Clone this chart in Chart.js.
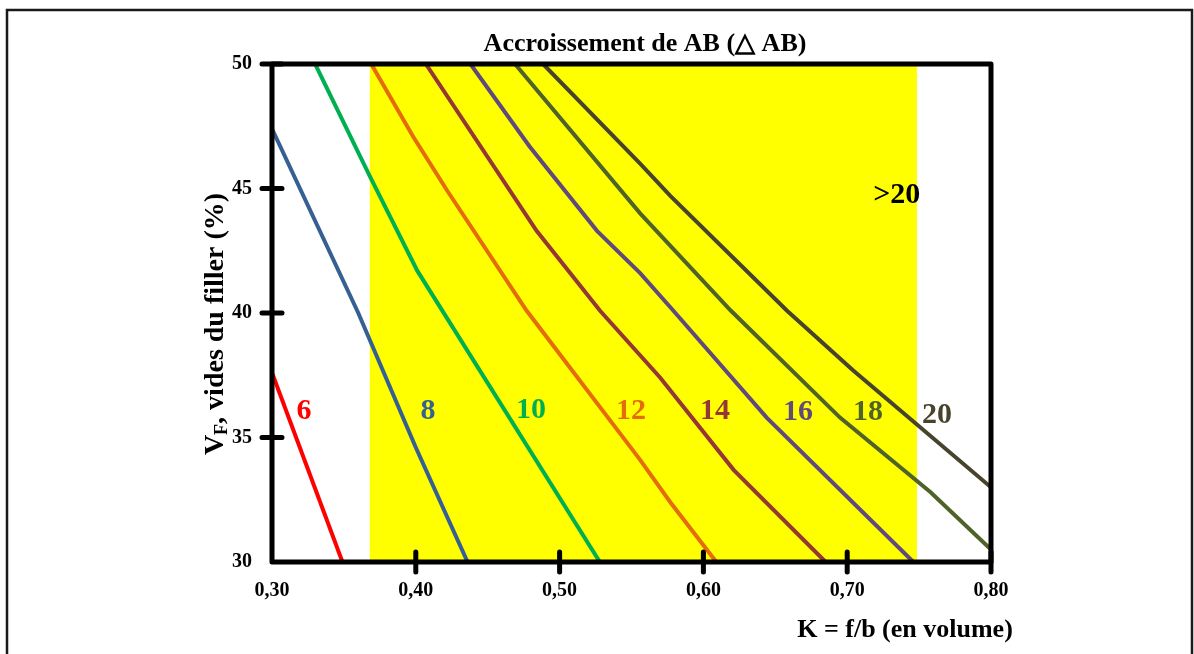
<!DOCTYPE html>
<html>
<head>
<meta charset="utf-8">
<script src="https://cdn.jsdelivr.net/npm/chart.js@4.4.1/dist/chart.umd.min.js"></script>
<style>
  html, body { margin: 0; padding: 0; background: #ffffff; }
  #wrap { width: 1194px; height: 654px; }
</style>
</head>
<body>
<div id="wrap"><canvas id="c" width="1194" height="654"></canvas></div>
<script>
// ---- Data ----
const xTicks = [0.30, 0.40, 0.50, 0.60, 0.70, 0.80];
const yTicks = [30, 35, 40, 45, 50];
const curveNames = ['6', '8', '10', '12', '14', '16', '18', '20'];

const k6  = [0.300, 0.349];
const v6  = [37.6, 30.0];
const k8  = [0.300, 0.360, 0.400, 0.436];
const v8  = [47.4, 40.0, 34.6, 30.0];
const k10 = [0.330, 0.368, 0.401, 0.528];
const v10 = [50.0, 45.5, 41.7, 30.0];
const k12 = [0.369, 0.398, 0.422, 0.477, 0.556, 0.577, 0.609];
const v12 = [50.0, 47.1, 44.9, 40.1, 34.1, 32.4, 30.0];
const k14 = [0.407, 0.484, 0.528, 0.570, 0.621, 0.685];
const v14 = [50.0, 43.3, 40.1, 37.4, 33.7, 30.0];
const k16 = [0.438, 0.479, 0.526, 0.556, 0.579, 0.644, 0.746];
const v16 = [50.0, 46.7, 43.3, 41.6, 40.1, 35.8, 30.0];
const k18 = [0.469, 0.556, 0.619, 0.695, 0.758, 0.800];
const v18 = [50.0, 44.0, 40.1, 35.8, 32.8, 30.5];
const k20 = [0.4885, 0.556, 0.577, 0.658, 0.704, 0.800];
const v20 = [50.0, 46.0, 44.7, 40.1, 37.7, 33.0];

// shaded zone (K range)
const bandK = [0.368, 0.7485];

// curve labels position (data coords)
const labelTexts = ['6', '8', '10', '12', '14', '16', '18', '20', '>20'];
const labelK = [0.3223, 0.4085, 0.4801, 0.5497, 0.6081, 0.6658, 0.7145, 0.7624, 0.7345];
const labelV = [36.06, 36.06, 36.1, 36.06, 36.06, 36.0, 36.0, 35.9, 44.74];

const titleText = 'Accroissement de AB (\u25B3 AB)';
const xTitleText = 'K = f/b (en volume)';
const yTitleMain = 'V';
const yTitleSub = 'F';
const yTitleRest = ', vides du filler (%)';

// ---- Styles ----
const FONT = '"Liberation Serif", "Times New Roman", serif';
const colors = ['#ff0000', '#376092', '#00b050', '#e46c0a', '#953735', '#604a7b', '#4f6228', '#48432c'];
const labelColors = colors.concat(['#000000']);

const ks = [k6, k8, k10, k12, k14, k16, k18, k20];
const vs = [v6, v8, v10, v12, v14, v16, v18, v20];

const datasets = curveNames.map((n, i) => ({
  label: n,
  data: ks[i].map((k, j) => ({ x: k, y: vs[i][j] })),
  borderColor: colors[i],
  backgroundColor: colors[i],
  borderWidth: 4,
  pointRadius: 0,
  tension: 0,
  fill: false
}));

const decor = {
  id: 'decor',
  beforeDatasetsDraw(chart) {
    const { ctx, chartArea: a, scales: { x } } = chart;
    ctx.save();
    ctx.fillStyle = '#ffff00';
    const x0 = x.getPixelForValue(bandK[0]);
    const x1 = x.getPixelForValue(bandK[1]);
    ctx.fillRect(x0, a.top, x1 - x0, a.bottom - a.top);
    ctx.restore();
  },
  afterDatasetsDraw(chart) {
    const { ctx, chartArea: a, scales: { x, y } } = chart;
    ctx.save();
    ctx.strokeStyle = '#000000';
    ctx.lineWidth = 5;
    ctx.lineJoin = 'round';
    ctx.lineCap = 'round';
    ctx.strokeRect(a.left, a.top, a.right - a.left, a.bottom - a.top);
    ctx.beginPath();
    yTicks.forEach(v => {
      if (v === yTicks[0]) return;
      const py = y.getPixelForValue(v);
      ctx.moveTo(a.left - 10, py); ctx.lineTo(a.left + 10, py);
    });
    xTicks.forEach(k => {
      if (k === xTicks[0]) return;
      const px = x.getPixelForValue(k);
      ctx.moveTo(px, a.bottom - 10); ctx.lineTo(px, a.bottom + 10);
    });
    ctx.stroke();

    // curve labels
    ctx.font = 'bold 30px ' + FONT;
    ctx.textAlign = 'center';
    ctx.textBaseline = 'middle';
    labelTexts.forEach((t, i) => {
      ctx.fillStyle = labelColors[i];
      ctx.fillText(t, x.getPixelForValue(labelK[i]), y.getPixelForValue(labelV[i]));
    });
    ctx.restore();
  },
  afterDraw(chart) {
    const { ctx } = chart;
    ctx.save();
    // outer frame
    ctx.strokeStyle = '#1a1a1a';
    ctx.lineWidth = 2.5;
    ctx.strokeRect(7, 10, 1185, 700);

    ctx.fillStyle = '#000000';
    ctx.textAlign = 'center';
    ctx.textBaseline = 'middle';
    ctx.font = 'bold 26px ' + FONT;
    ctx.fillText(titleText, 645, 44);

    ctx.font = 'bold 26px ' + FONT;
    ctx.fillText(xTitleText, 905, 630);

    // y title with subscript
    ctx.translate(213, 324);
    ctx.rotate(-Math.PI / 2);
    const big = 'bold 28px ' + FONT;
    const small = 'bold 18px ' + FONT;
    ctx.font = big; const w1 = ctx.measureText(yTitleMain).width;
    const w3 = ctx.measureText(yTitleRest).width;
    ctx.font = small; const w2 = ctx.measureText(yTitleSub).width;
    const total = w1 + w2 + w3;
    let cx = -total / 2;
    ctx.textAlign = 'left';
    ctx.textBaseline = 'alphabetic';
    ctx.font = big; ctx.fillText(yTitleMain, cx, 10); cx += w1;
    ctx.font = small; ctx.fillText(yTitleSub, cx, 14); cx += w2;
    ctx.font = big; ctx.fillText(yTitleRest, cx, 10);
    ctx.restore();
  }
};

new Chart(document.getElementById('c'), {
  type: 'line',
  data: { datasets },
  plugins: [decor],
  options: {
    responsive: false,
    animation: false,
    devicePixelRatio: 1,
    layout: { padding: { left: 0, top: 64, right: 203, bottom: 0 } },
    plugins: { legend: { display: false }, tooltip: { enabled: false }, title: { display: false } },
    scales: {
      x: {
        type: 'linear', min: 0.30, max: 0.80,
        afterFit(s) { s.height = 92; },
        afterBuildTicks(s) { s.ticks = xTicks.map(v => ({ value: v })); },
        grid: { display: false, drawTicks: false },
        border: { display: false },
        ticks: {
          padding: 17, color: '#000000',
          font: { family: FONT, size: 20, weight: 'bold' },
          callback: v => Number(v).toFixed(2).replace('.', ',')
        }
      },
      y: {
        type: 'linear', min: 30, max: 50,
        afterFit(s) { s.width = 272; },
        afterBuildTicks(s) { s.ticks = yTicks.map(v => ({ value: v })); },
        grid: { display: false, drawTicks: false },
        border: { display: false },
        ticks: {
          padding: 20, color: '#000000',
          font: { family: FONT, size: 20, weight: 'bold' },
          callback: v => String(v)
        }
      }
    }
  }
});
</script>
</body>
</html>
